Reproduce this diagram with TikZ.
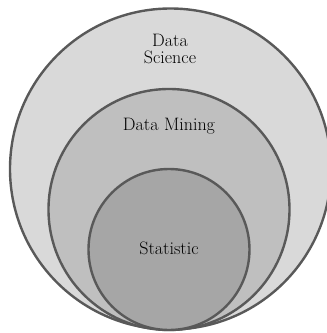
\documentclass[tikz,border=0pt]{standalone}
\tikzset{
  ring/.style={circle, draw=ringline, line width=2.4pt, inner sep=0pt},
  lbl/.style={align=center, font=\fontsize{18}{17}\selectfont}
}
\definecolor{ringline}{HTML}{595959}
\definecolor{fillouter}{HTML}{D9D9D9}
\definecolor{fillmid}{HTML}{BFBFBF}
\definecolor{fillinner}{HTML}{A6A6A6}
\begin{document}
\begin{tikzpicture}[x=1pt,y=-1pt]
\useasboundingbox (0,0) rectangle (327,333);
\node[ring, fill=fillouter, minimum size=321pt] (science) at (170.5,169) {};
\node[ring, fill=fillmid, minimum size=241pt] (mining) at (169,209.5) {};
\node[ring, fill=fillinner, minimum size=161pt] (stat) at (169,249.5) {};
\node[lbl] (sciencelbl) at (170,49) {Data\\Science};
\node[lbl] (mininglbl) at (169,126) {Data Mining};
\node[lbl] (statlbl) at (169,248) {Statistic};
\end{tikzpicture}
\end{document}
